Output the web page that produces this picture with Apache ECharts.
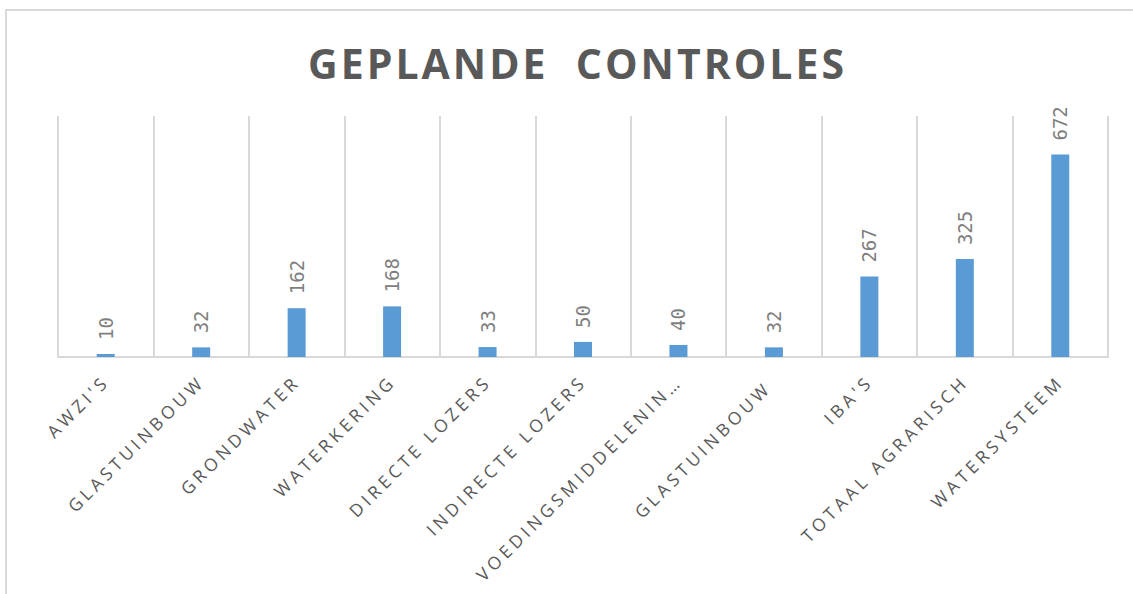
<!DOCTYPE html>
<html>
<head>
<meta charset="utf-8">
<script src="https://cdn.jsdelivr.net/npm/echarts@6/dist/echarts.min.js"></script>
<style>
  html, body { margin: 0; padding: 0; background: #fff; }
  #frame { position: absolute; left: 5px; top: 9px; width: 1140px; height: 600px; border: 2px solid #d9d9d9; box-sizing: border-box; }
  #main { position: absolute; left: 0; top: 0; width: 1133px; height: 594px; }
  /* excel style letter tracking */
  #main text[style*="17.5px"] { letter-spacing: 4px; }
  #main text[style*="41px"] { letter-spacing: 3px; }
</style>
</head>
<body>
<div id="frame"></div>
<div id="main"></div>
<script>
const categories = ["AWZI'S", 'GLASTUINBOUW', 'GRONDWATER', 'WATERKERING', 'DIRECTE LOZERS',
  'INDIRECTE LOZERS', 'VOEDINGSMIDDELENIN…', 'GLASTUINBOUW ', "IBA'S", 'TOTAAL AGRARISCH', 'WATERSYSTEEM'];
const controles = [10, 32, 162, 168, 33, 50, 40, 32, 267, 325, 672];
const titleText = 'GEPLANDE  CONTROLES';

const myChart = echarts.init(document.getElementById('main'), null, { renderer: 'svg' });
const option = {
  animation: false,
  title: {
    text: titleText,
    left: 303,
    top: 37,
    textStyle: { fontFamily: 'Open Sans', fontWeight: 'bold', fontSize: 41, color: '#595959' }
  },
  grid: { left: 58, right: 25, top: 116, bottom: 237, outerBoundsMode: 'none' },
  xAxis: {
    type: 'category',
    data: categories,
    axisLine: { lineStyle: { color: '#d9d9d9', width: 2 } },
    axisTick: { show: false },
    splitLine: { show: true, lineStyle: { color: '#d9d9d9', width: 2 } },
    axisLabel: {
      interval: 0,
      rotate: 45,
      margin: 21,
      color: '#595959',
      fontFamily: 'Open Sans',
      fontSize: 17.5
    }
  },
  yAxis: {
    type: 'value',
    min: 0,
    max: 800,
    show: false,
    splitLine: { show: false }
  },
  series: [{
    type: 'bar',
    data: controles,
    barWidth: 18,
    itemStyle: { color: '#5b9bd5' },
    label: {
      show: true,
      position: 'top',
      rotate: 90,
      align: 'left',
      verticalAlign: 'middle',
      distance: 14,
      color: '#7f7f7f',
      fontFamily: 'DejaVu Sans Mono',
      fontSize: 19
    }
  }]
};
myChart.setOption(option);
</script>
</body>
</html>
